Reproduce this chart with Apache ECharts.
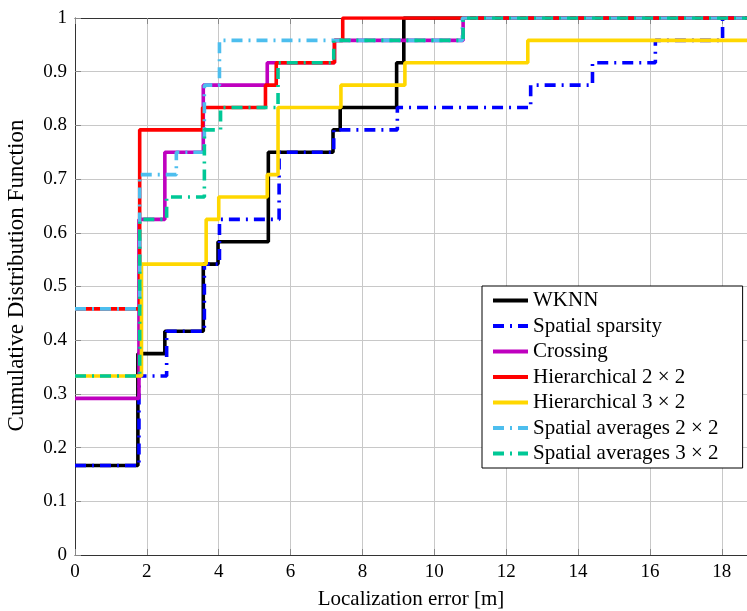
<!DOCTYPE html>
<html>
<head>
<meta charset="utf-8">
<script src="https://cdn.jsdelivr.net/npm/echarts@6/dist/echarts.min.js"></script>
<style>
  html, body { margin: 0; padding: 0; background: #fff; }
  #chart { width: 747px; height: 611px; }
</style>
</head>
<body>
<div id="chart"></div>
<script>
// step points: x where the CDF jumps, y the level reached there
const xMax = 18.7;

const wknnX = [0, 1.75, 2.5, 3.57, 3.98, 5.38, 7.18, 7.38, 8.95, 9.15];
const wknnY = [0.1667, 0.375, 0.4167, 0.5417, 0.5833, 0.75, 0.7917, 0.8333, 0.9167, 1];

const sparsityX = [0, 1.78, 2.55, 3.6, 4.02, 5.68, 7.2, 8.97, 12.68, 14.4, 16.15, 18.02];
const sparsityY = [0.1667, 0.3333, 0.4167, 0.5417, 0.625, 0.75, 0.7917, 0.8333, 0.875, 0.9167, 0.9583, 1];

const crossingX = [0, 1.78, 2.5, 3.57, 5.35, 7.22, 10.8];
const crossingY = [0.2917, 0.625, 0.75, 0.875, 0.9167, 0.9583, 1];

const hier22X = [0, 1.8, 3.55, 5.3, 5.6, 7.22, 7.45];
const hier22Y = [0.4583, 0.7917, 0.8333, 0.875, 0.9167, 0.9583, 1];

const hier32X = [0, 1.85, 3.65, 4.0, 5.35, 5.65, 7.4, 9.18, 12.6];
const hier32Y = [0.3333, 0.5417, 0.625, 0.6667, 0.7083, 0.8333, 0.875, 0.9167, 0.9583];

const avg22X = [0, 1.8, 2.82, 3.6, 4.02, 10.78];
const avg22Y = [0.4583, 0.7083, 0.75, 0.875, 0.9583, 1];

const avg32X = [0, 1.8, 2.55, 3.6, 4.05, 5.65, 7.2, 10.8];
const avg32Y = [0.3333, 0.625, 0.6667, 0.7917, 0.8333, 0.9167, 0.9583, 1];

const names = [
  "WKNN",
  "Spatial sparsity",
  "Crossing",
  "Hierarchical 2 × 2",
  "Hierarchical 3 × 2",
  "Spatial averages 2 × 2",
  "Spatial averages 3 × 2",
];
const colors = ["#000000", "#0000ff", "#bf00bf", "#ff0000", "#ffd700", "#4dbeee", "#00c896"];
const dashed = [false, true, false, false, false, true, true];
const allX = [wknnX, sparsityX, crossingX, hier22X, hier32X, avg22X, avg32X];
const allY = [wknnY, sparsityY, crossingY, hier22Y, hier32Y, avg22Y, avg32Y];

const font = "Liberation Serif";

const seriesArr = names.map((name, i) => {
  const pts = allX[i].map((x, k) => [x, allY[i][k]]);
  pts.push([xMax, allY[i][allY[i].length - 1]]);
  return {
    name: name,
    type: "line",
    step: "end",
    symbol: "none",
    data: pts,
    lineStyle: {
      color: colors[i],
      width: 3.6,
      type: dashed[i] ? [11, 6, 2, 6] : "solid",
      cap: "butt",
    },
    itemStyle: { color: colors[i] },
  };
});

const chart = echarts.init(document.getElementById("chart"));
chart.setOption({
  animation: false,
  grid: { left: 75, right: 0, top: 18, bottom: 56, outerBoundsMode: "none", containLabel: false },
  legend: {
    orient: "vertical",
    left: 482,
    top: 286,
    padding: [4, 24, 4, 9],
    itemWidth: 35,
    itemHeight: 14,
    itemGap: 4.5,
    itemStyle: { opacity: 0 },
    lineStyle: { width: 4 },
    borderColor: "#000",
    borderWidth: 1,
    borderRadius: 0,
    backgroundColor: "#fff",
    textStyle: { fontFamily: font, fontSize: 21, color: "#000", lineHeight: 21 },
    data: names,
  },
  xAxis: [
    {
      type: "value",
      min: 0,
      max: xMax,
      interval: 2,
      name: "Localization error [m]",
      nameLocation: "middle",
      nameGap: 34,
      nameTextStyle: { fontFamily: font, fontSize: 21, color: "#000" },
      axisLine: { lineStyle: { color: "#333", width: 1 } },
      axisTick: { inside: true, length: 6, lineStyle: { color: "#888" } },
      axisLabel: { fontFamily: font, fontSize: 19, color: "#000", margin: 8, showMaxLabel: false },
      splitLine: { show: true, lineStyle: { color: "#c8c8c8", width: 1 } },
    },
    {
      type: "value",
      position: "top",
      min: 0,
      max: xMax,
      interval: 2,
      axisLine: { lineStyle: { color: "#333", width: 1 } },
      axisTick: { inside: true, length: 6, lineStyle: { color: "#888" } },
      axisLabel: { show: false },
      splitLine: { show: false },
    },
  ],
  yAxis: {
    type: "value",
    min: 0,
    max: 1,
    interval: 0.1,
    name: "Cumulative Distribution Function",
    nameLocation: "middle",
    nameGap: 47,
    nameTextStyle: { fontFamily: font, fontSize: 23, color: "#000", padding: [0, 0, 0, 22] },
    axisLine: { show: true, lineStyle: { color: "#333", width: 1 } },
    axisTick: { show: true, inside: true, length: 6, lineStyle: { color: "#888" } },
    axisLabel: { fontFamily: font, fontSize: 19, color: "#000", margin: 8 },
    splitLine: { show: true, lineStyle: { color: "#c8c8c8", width: 1 } },
  },
  series: seriesArr,
});
</script>
</body>
</html>
